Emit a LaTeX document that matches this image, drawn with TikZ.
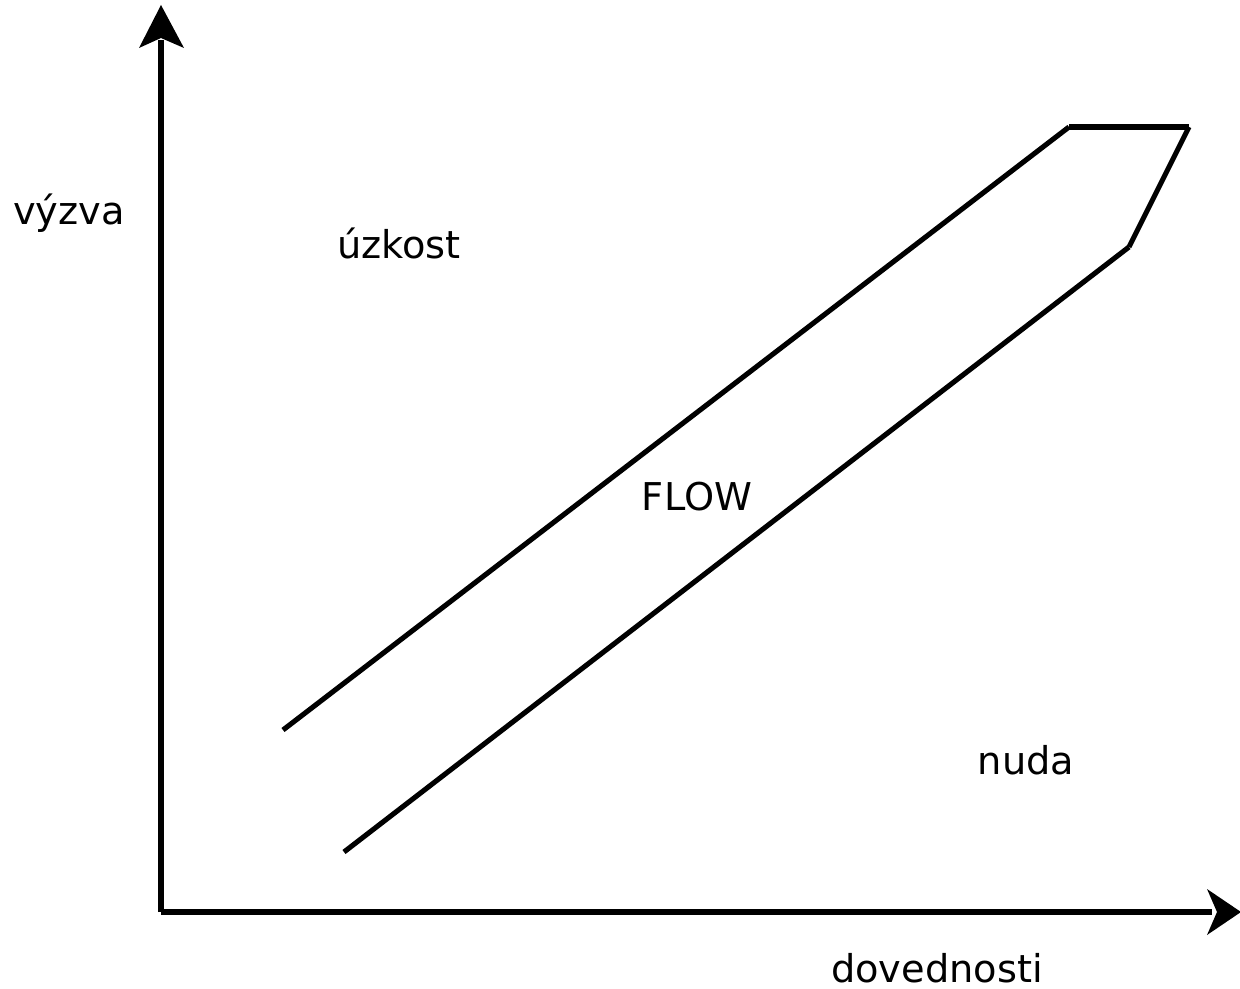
\documentclass[tikz,border=0pt]{standalone}
\usepackage{fontspec}
\setmainfont{DejaVu Sans}
\begin{document}
\begin{tikzpicture}[x=0.02cm,y=-0.02cm,
  ln/.style={line width=2.9pt,line cap=butt},
  lbl/.style={inner sep=0pt,font=\fontsize{21.8}{26}\selectfont}]
\useasboundingbox (0,0) rectangle (1240,989);
% axes
\coordinate (o) at (161,912);
\coordinate (ytip) at (161,5);
\coordinate (xtip) at (1241,912);
\draw[ln] (o) -- (161,40);
\draw[ln] (o) -- (1212,912);
\fill (ytip) -- (184,48) -- (161,38) -- (139,48) -- cycle;
\fill (xtip) -- (1207,935) -- (1217,912) -- (1207,889) -- cycle;
% flow band
\coordinate (a) at (283,730);
\coordinate (b) at (1069,127);
\coordinate (c) at (1189,127);
\coordinate (d) at (1129,247);
\coordinate (e) at (344,852);
\draw[ln] (a) -- (b);
\draw[ln] (b) -- (c);
\draw[ln] (c) -- (d);
\draw[ln] (d) -- (e);
% labels
\node[lbl] (vyzva) at (69,213) {výzva};
\node[lbl] (uzkost) at (399,243) {úzkost};
\node[lbl] (flow) at (697,497) {FLOW};
\node[lbl] (nuda) at (1026,760) {nuda};
\node[lbl] (dov) at (937,968) {dovednosti};
\end{tikzpicture}
\end{document}
